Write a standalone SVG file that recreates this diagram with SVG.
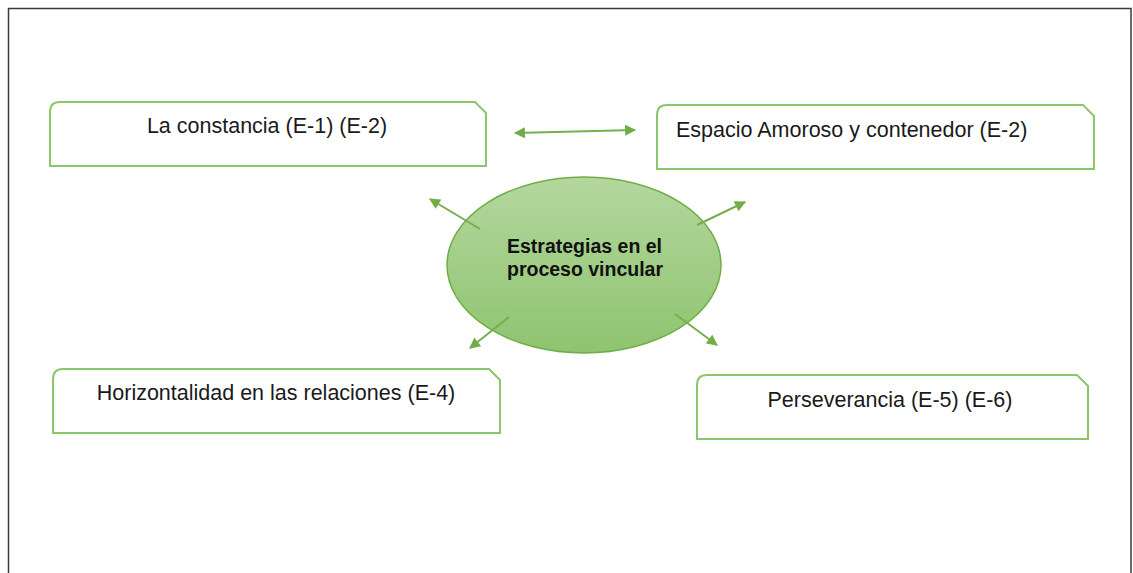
<svg xmlns="http://www.w3.org/2000/svg" width="1133" height="573" viewBox="0 0 1133 573">
<style>
.box{fill:#fff;stroke:#8cc66a;stroke-width:2}
.t{font-family:"Liberation Sans",Arial,sans-serif;font-size:21.5px;fill:#1a1a1a}
.c{font-family:"Liberation Sans",Arial,sans-serif;font-size:19.5px;font-weight:bold;fill:#111}
.a{stroke:#74b04c;stroke-width:2;fill:none}
</style>
<defs>
<linearGradient id="g" x1="0" y1="0" x2="0" y2="1">
<stop offset="0" stop-color="#b4d79e"/>
<stop offset="1" stop-color="#8ec46f"/>
</linearGradient>
<marker id="ah" viewBox="0 0 10 10" refX="9" refY="5" markerWidth="12" markerHeight="11" markerUnits="userSpaceOnUse" orient="auto-start-reverse">
<path d="M0,0 L10,5 L0,10 Z" fill="#70ad47"/>
</marker>
</defs>
<rect width="1133" height="573" fill="#fff"/>
<path d="M8.5,573 V8.5 H1131 V573" fill="none" stroke="#3a3a3a" stroke-width="1.5"/>
<g id="center">
<ellipse cx="584" cy="265" rx="137" ry="88" fill="url(#g)" stroke="#70ad47" stroke-width="1.5"/>
<text class="c" x="507" y="253">Estrategias en el</text>
<text class="c" x="507" y="276">proceso vincular</text>
</g>
<g id="n1">
<path class="box" d="M50,112 Q50,102 60,102 H475 L486,113 V166 H50 Z"/>
<text class="t" x="267" y="133" text-anchor="middle">La constancia (E-1) (E-2)</text>
</g>
<g id="n2">
<path class="box" d="M657,115 Q657,105 667,105 H1083 L1094,116 V169 H657 Z"/>
<text class="t" x="676" y="137">Espacio Amoroso y contenedor (E-2)</text>
</g>
<g id="n3">
<path class="box" d="M53,379 Q53,369 63,369 H489 L500,380 V433 H53 Z"/>
<text class="t" x="276" y="400" text-anchor="middle">Horizontalidad en las relaciones (E-4)</text>
</g>
<g id="n4">
<path class="box" d="M697,385 Q697,375 707,375 H1077 L1088,386 V439 H697 Z"/>
<text class="t" x="890" y="407" text-anchor="middle">Perseverancia (E-5) (E-6)</text>
</g>
<g id="connectors">
<line class="a" x1="515" y1="133" x2="635" y2="130" marker-start="url(#ah)" marker-end="url(#ah)"/>
<line class="a" x1="480" y1="229" x2="430" y2="199" marker-end="url(#ah)"/>
<line class="a" x1="697" y1="225" x2="745" y2="202" marker-end="url(#ah)"/>
<line class="a" x1="509" y1="317" x2="470" y2="348" marker-end="url(#ah)"/>
<line class="a" x1="675" y1="314" x2="717" y2="345" marker-end="url(#ah)"/>
</g>
</svg>
